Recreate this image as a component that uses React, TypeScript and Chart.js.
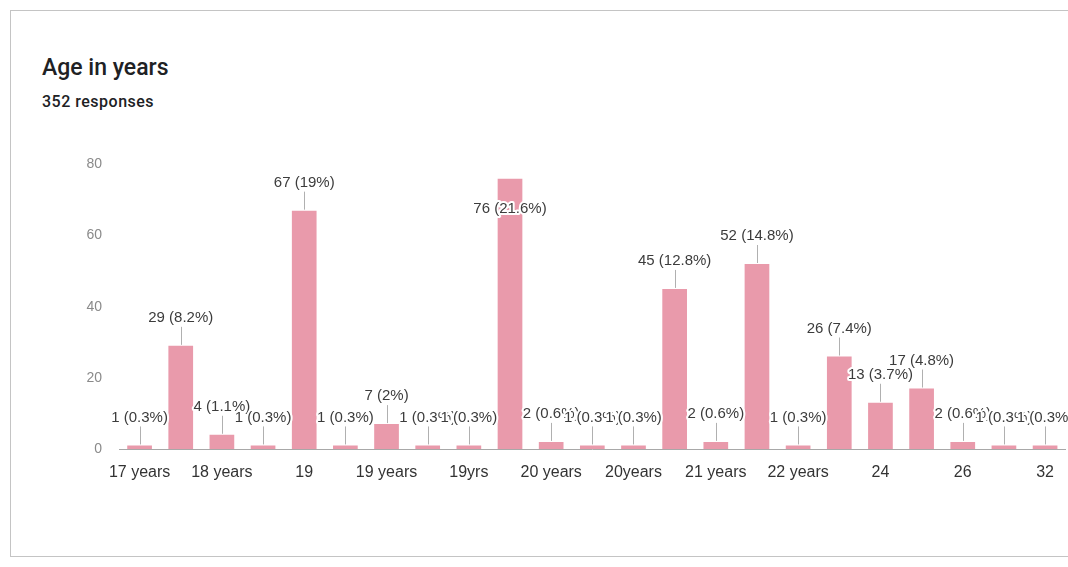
import React, { useEffect, useRef } from "react";
import { Chart, registerables } from "chart.js";

Chart.register(...registerables);

const categories: string[] = [
  "17 years", "18", "18 years", "18yrs", "19", "19 Years", "19 years", "19years",
  "19yrs", "20", "20 years", "20 yrs", "20years", "21", "21 years", "22",
  "22 years", "23", "24", "25", "26", "28", "32",
];
const counts: number[] = [
  1, 29, 4, 1, 67, 1, 7, 1,
  1, 76, 2, 1, 1, 45, 2, 52,
  1, 26, 13, 17, 2, 1, 1,
];
const yTicks: number[] = [0, 20, 40, 60, 80];
const titleText = "Age in years";
const subtitleText = "352 responses";

const BAR_COLOR = "#e99aab";

function pctLabel(v: number, total: number): string {
  let s = ((v / total) * 100).toFixed(1);
  if (s.endsWith(".0")) s = s.slice(0, -2);
  return `${v} (${s}%)`;
}

const labelPlugin = {
  id: "barLabels",
  afterDatasetsDraw(chart: any) {
    const ctx = chart.ctx;
    const meta = chart.getDatasetMeta(0);
    const data = chart.data.datasets[0].data as number[];
    const total = data.reduce((a, b) => a + b, 0);
    const area = chart.chartArea;
    ctx.save();
    ctx.font = "15px 'Liberation Sans', Arial, sans-serif";
    ctx.textAlign = "center";
    ctx.textBaseline = "middle";
    meta.data.forEach((bar: any, i: number) => {
      const top = bar.y;
      let ly = top - 28;
      let inside = false;
      if (ly - 8 < area.top) {
        ly = top + 30;
        inside = true;
      }
      if (!inside) {
        ctx.strokeStyle = "#b0b0b0";
        ctx.lineWidth = 1;
        ctx.beginPath();
        ctx.moveTo(Math.round(bar.x) + 0.5, top - 1);
        ctx.lineTo(Math.round(bar.x) + 0.5, ly + 9);
        ctx.stroke();
      }
      const txt = pctLabel(data[i], total);
      ctx.lineJoin = "round";
      ctx.strokeStyle = "#ffffff";
      ctx.lineWidth = 4;
      ctx.strokeText(txt, bar.x, ly);
      ctx.fillStyle = "#3c3c3c";
      ctx.fillText(txt, bar.x, ly);
    });
    ctx.restore();
  },
};

export default function App() {
  const canvasRef = useRef<HTMLCanvasElement | null>(null);

  useEffect(() => {
    if (!canvasRef.current) return;
    const chart = new Chart(canvasRef.current, {
      type: "bar",
      data: {
        labels: categories,
        datasets: [
          {
            data: counts,
            backgroundColor: BAR_COLOR,
            borderWidth: 0,
            barPercentage: 0.6,
            categoryPercentage: 1,
          },
        ],
      },
      plugins: [labelPlugin],
      options: {
        animation: false,
        responsive: false,
        maintainAspectRatio: false,
        layout: { padding: { top: 3, right: 1, left: 0, bottom: 0 } },
        plugins: {
          legend: { display: false },
          tooltip: { enabled: false },
          title: { display: false },
        },
        scales: {
          x: {
            grid: { display: false, drawTicks: false },
            border: { display: true, color: "#a8a8a8", width: 1 },
            ticks: {
              autoSkip: false,
              maxRotation: 0,
              padding: 14,
              color: "#333333",
              font: { family: "'Liberation Sans', Arial, sans-serif", size: 16 },
              callback: (_v: any, i: number) => (i % 2 === 0 ? categories[i] : ""),
            },
            afterFit: (scale: any) => {
              scale.height = 50;
            },
          },
          y: {
            min: 0,
            max: 80,
            grid: { display: false, drawTicks: false },
            border: { display: false },
            afterBuildTicks: (scale: any) => {
              scale.ticks = yTicks.map((v) => ({ value: v }));
            },
            ticks: {
              padding: 17,
              color: "#8a8a8a",
              font: { family: "'Liberation Sans', Arial, sans-serif", size: 14 },
            },
            afterFit: (scale: any) => {
              scale.width = 119;
            },
          },
        },
      },
    });
    return () => chart.destroy();
  }, []);

  return (
    <div
      style={{
        position: "fixed",
        left: 0,
        top: 0,
        width: 1068,
        height: 567,
        background: "#ffffff",
        overflow: "hidden",
      }}
    >
      <div
        style={{
          position: "absolute",
          left: 10,
          top: 10,
          width: 1100,
          height: 547,
          border: "1px solid #c4c4c4",
          boxSizing: "border-box",
        }}
      />
      <div
        style={{
          position: "absolute",
          left: 42,
          top: 54,
          fontFamily: "Roboto, 'Liberation Sans', sans-serif",
          fontSize: 23,
          fontWeight: 500,
          color: "#202124",
          whiteSpace: "nowrap",
        }}
      >
        {titleText}
      </div>
      <div
        style={{
          position: "absolute",
          left: 42,
          top: 92,
          fontFamily: "Roboto, 'Liberation Sans', sans-serif",
          fontSize: 16,
          fontWeight: 500,
          letterSpacing: 0.5,
          color: "#202124",
          whiteSpace: "nowrap",
        }}
      >
        {subtitleText}
      </div>
      <canvas
        ref={canvasRef}
        width={1068}
        height={360}
        style={{ position: "absolute", left: 0, top: 139, width: 1068, height: 360 }}
      />
    </div>
  );
}
